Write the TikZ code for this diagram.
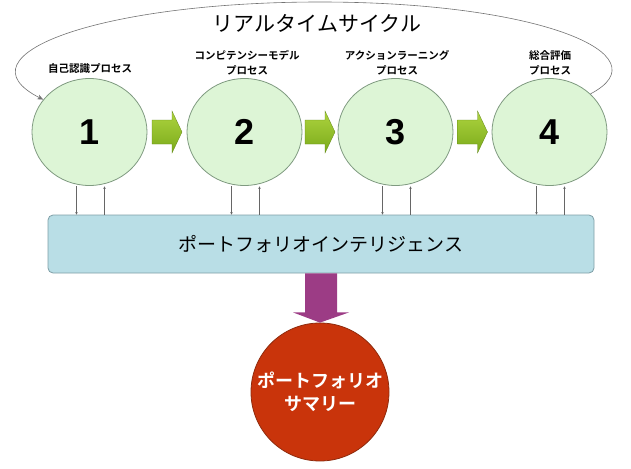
\documentclass[tikz,border=0pt]{standalone}
\usepackage{fontspec}
\setmainfont{Liberation Sans}
\newfontfamily\jp{Noto Sans CJK JP}
\newfontfamily\jpb{Noto Sans CJK JP Bold}
\usetikzlibrary{shapes.geometric,calc,arrows.meta}
\definecolor{cgreen}{HTML}{DDF5D6}
\definecolor{cgreenline}{HTML}{7F9A80}
\definecolor{boxblue}{HTML}{B9DEE6}
\definecolor{boxline}{HTML}{7E9EA6}
\definecolor{agreen1}{HTML}{AED43F}
\definecolor{agreen2}{HTML}{7AAA1A}
\definecolor{purp}{HTML}{9C3C85}
\definecolor{redc}{HTML}{C9340B}
\definecolor{redline}{HTML}{8E2A0C}
\tikzset{
  proc/.style={ellipse, draw=cgreenline, line width=0.8pt, fill=cgreen, minimum width=115pt, minimum height=107pt, inner sep=0pt, font=\fontsize{36}{36}\selectfont\bfseries},
  plabel/.style={font=\jpb\fontsize{10.5}{15}\selectfont, align=center, inner sep=0pt},
  flow/.style={draw=black!60, line width=0.5pt, -{Stealth[length=2.5pt,width=2.5pt]}},
  garrow/.style={top color=agreen1, bottom color=agreen2, draw=agreen2!80!black, line width=0.3pt},
}
\begin{document}
\begin{tikzpicture}[x=1pt,y=-1pt]
\useasboundingbox (0,0) rectangle (631,468);
% process circles
\node[proc] (n1) at (89.5,132) {1};
\node[proc] (n2) at (244.5,132) {2};
\node[proc] (n3) at (395.5,132) {3};
\node[proc] (n4) at (549.5,132) {4};
% labels
\node[plabel] (l1) at (90,69) {自己認識プロセス};
\node[plabel] (l2) at (247,63) {コンピテンシーモデル\\プロセス};
\node[plabel] (l3) at (397,63) {アクションラーニング\\プロセス};
\node[plabel] (l4) at (550,63) {総合評価\\プロセス};
% title
\node[font=\jp\fontsize{21}{21}\selectfont, inner sep=0pt] (title) at (317,23) {リアルタイムサイクル};
% cycle curve
\draw[draw=black!55, line width=0.6pt, -{Stealth[length=6pt,width=5pt]}]
  (n4.north east) .. controls (665,55) and (540,2) .. (320,2)
  .. controls (100,2) and (-45,55) .. (n1.145);
% green block arrows
\foreach \a/\b in {n1/n2,n2/n3,n3/n4}{
  \path (\a.east) -- (\b.west) coordinate[pos=0.5] (m);
  \draw[garrow] ($(m)+(-15,-12)$) -- ($(m)+(5,-12)$) -- ($(m)+(5,-21)$) -- ($(m)+(15,0)$)
    -- ($(m)+(5,21)$) -- ($(m)+(5,12)$) -- ($(m)+(-15,12)$) -- cycle;
}
% intelligence box
\node[draw=boxline, line width=0.8pt, fill=boxblue, rounded corners=5pt, minimum width=546pt, minimum height=58pt, inner sep=0pt, font=\jp\fontsize{19}{19}\selectfont] (box) at (321,244) {ポートフォリオインテリジェンス};
% small arrows
\foreach \n in {n1,n2,n3,n4}{
  \draw[flow] ($(\n.south)+(-13,0.5)$) coordinate (d) -- (d |- box.north);
  \coordinate (u) at ($(\n.south)+(15,0.5)$);
  \draw[flow] (u |- box.north) -- (u);
}
% summary circle
\node[circle, draw=redline, line width=0.8pt, fill=redc, minimum size=138pt, inner sep=0pt, text=white, align=center, font=\jpb\fontsize{18}{23}\selectfont] (sum) at (320,392) {ポートフォリオ\\サマリー};
% purple arrow
\fill[purp] ($(box.south)+(-16,0)$) -- ($(box.south)+(16,0)$) -- ($(box.south)+(16,39)$) -- ($(box.south)+(28,39)$) -- (sum.north) -- ($(box.south)+(-28,39)$) -- ($(box.south)+(-16,39)$) -- cycle;
\end{tikzpicture}
\end{document}
